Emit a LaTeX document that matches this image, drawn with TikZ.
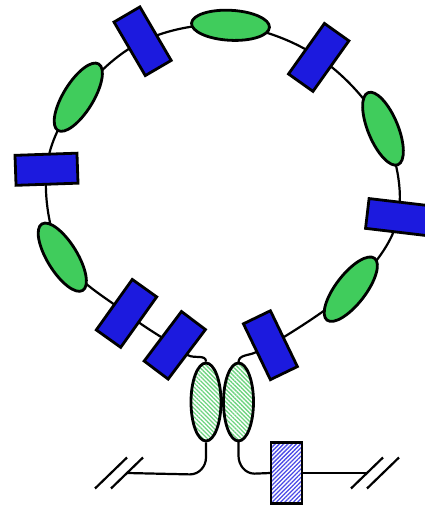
\documentclass[tikz,border=0pt]{standalone}
\usetikzlibrary{shapes.geometric,patterns.meta,backgrounds}
\definecolor{BoxClr}{RGB}{28,26,222}
\definecolor{OvalClr}{RGB}{64,204,92}
\definecolor{HatchGreenClr}{RGB}{110,212,128}
\definecolor{HatchBlueClr}{RGB}{75,75,230}

\begin{document}
\begin{tikzpicture}[x=1pt,y=1pt,
  ring/.style={line width=2.2pt,color=black},
  blockbox/.style={draw,line width=2.8pt,fill=BoxClr,minimum width=62pt,minimum height=30pt,inner sep=0pt},
  blockoval/.style={ellipse,draw,line width=2.8pt,fill=OvalClr,minimum width=78pt,minimum height=30pt,inner sep=0pt},
  hatchoval/.style={ellipse,draw,line width=2.8pt,minimum width=30pt,minimum height=78pt,inner sep=0pt,
    pattern={Lines[angle=-45,distance=3pt,line width=1.3pt]},pattern color=HatchGreenClr},
  hatchbox/.style={draw,line width=2.8pt,minimum width=31pt,minimum height=61pt,inner sep=0pt,
    pattern={Lines[angle=45,distance=3pt,line width=1.3pt]},pattern color=HatchBlueClr},
  breakmark/.style={line width=2.2pt}]
\useasboundingbox (0,0) rectangle (424,507);

\node[blockoval,rotate=-3] (e1) at (230.5,481.7) {};
\node[blockbox,rotate=54.6] (r1) at (318.7,449.6) {};
\node[blockoval,rotate=-67.5] (e2) at (383,378.3) {};
\node[blockbox,rotate=-6.75] (r2) at (398.1,289.9) {};
\node[blockoval,rotate=52.4] (e3) at (350.8,217.8) {};
\node[blockbox,rotate=-64.2] (r3) at (270.4,161.8) {};
\node[hatchoval] (h2) at (238.5,105) {};
\node[hatchoval] (h1) at (206,105) {};
\node[blockbox,rotate=53] (r4) at (174.8,161.7) {};
\node[blockbox,rotate=54.5] (r5) at (126.5,193.6) {};
\node[blockoval,rotate=-58.4] (e4) at (62.3,249.8) {};
\node[blockbox,rotate=2] (r6) at (46.5,337.75) {};
\node[blockoval,rotate=58.4] (e5) at (78.3,409.8) {};
\node[blockbox,rotate=-59.7] (r7) at (142.6,465.75) {};

\node[hatchbox] (hb) at (286.5,34) {};
\coordinate (endL) at (127,34);
\coordinate (endR) at (367,34);

\begin{scope}[on background layer]
\draw[ring] plot[smooth,tension=0.6] coordinates {(r4.center) (r5.center) (e4.center) (r6.center)
  (e5.center) (r7.center) (e1.center) (r1.center) (e2.center) (r2.center) (e3.center) (r3.center)};
\draw[ring] (r4.center) -- (r4.south) to[out=-30,in=90] (h1.north);
\draw[ring] (r3.center) -- (r3.south) to[out=-154,in=90] (h2.north);
\end{scope}

\draw[ring] (h1.south) -- ++(0,-15) to[out=-90,in=0] ++(-16,-17) -- (endL);
\draw[ring] (h2.south) -- ++(0,-14) to[out=-90,in=180] ++(16,-18) -- (hb.west);
\draw[ring] (hb.east) -- (endR);

\foreach \dx in {-16,0}
  \draw[breakmark] (endL) ++({\dx-16},-15.5) -- ++(32,31);
\foreach \dx in {0,16}
  \draw[breakmark] (endR) ++({\dx-16},-15.5) -- ++(32,31);

\end{tikzpicture}
\end{document}
